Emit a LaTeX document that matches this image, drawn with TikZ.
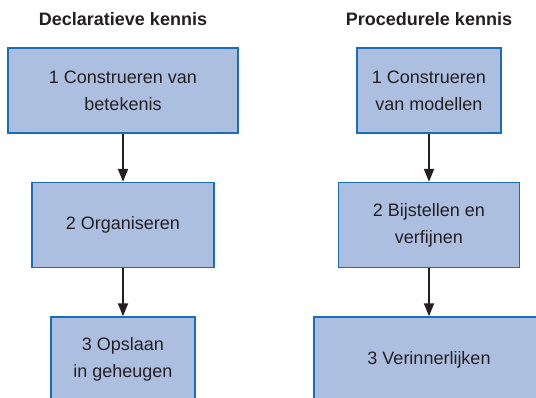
\documentclass[tikz,border=0pt]{standalone}
\usepackage{fontspec}
\setmainfont{Liberation Sans}
\usepackage{xcolor}
\usepackage{tikz}
\usetikzlibrary{positioning,arrows.meta}
\definecolor{vulblauw}{RGB}{173,191,225}
\definecolor{randblauw}{RGB}{26,110,183}
\definecolor{inkt}{RGB}{35,31,32}

\begin{document}
\begin{tikzpicture}[x=1pt,y=1pt,
        stap/.style={draw=randblauw, fill=vulblauw, line width=1.5pt, minimum height=85pt, inner sep=0pt,
            align=center, text=inkt, font=\fontsize{18}{27}\selectfont},
        kop/.style={anchor=base, text=inkt, font=\fontsize{18}{22}\selectfont\bfseries},
        pijl/.style={-{Triangle[length=13pt,width=10pt]}, line width=2pt, draw=inkt},
        node distance=48pt]
        \useasboundingbox (0,0) rectangle (536,-397);

        % declaratieve kennis
        \node[kop] (dkop) at (123,-25) {Declaratieve kennis};
        \node[stap, minimum width=230pt] (d1) at (123,-90.5) {1 Construeren van\\betekenis};
        \node[stap, minimum width=182pt, below=of d1] (d2) {2 Organiseren};
        \node[stap, minimum width=144pt, below=of d2] (d3) {3 Opslaan\\in geheugen};

        \draw[pijl] (d1) -- (d2);
        \draw[pijl] (d2) -- (d3);

        % procedurele kennis
        \node[kop] (pkop) at (429,-25) {Procedurele kennis};
        \node[stap, minimum width=144pt] (p1) at (429,-90.5) {1 Construeren\\van modellen};
        \node[stap, minimum width=181pt, below=of p1] (p2) {2 Bijstellen en\\verfijnen};
        \node[stap, minimum width=230pt, below=of p2] (p3) {3 Verinnerlijken};

        \draw[pijl] (p1) -- (p2);
        \draw[pijl] (p2) -- (p3);
    \end{tikzpicture}
\end{document}
